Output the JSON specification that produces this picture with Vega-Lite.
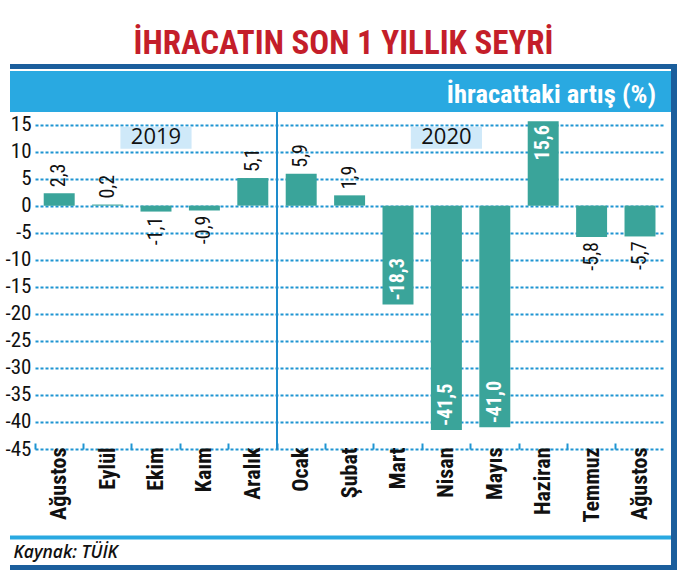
{
  "$schema": "https://vega.github.io/schema/vega-lite/v6.json",
  "width": 667,
  "height": 506,
  "autosize": {"type": "none"},
  "padding": {"left": 10, "top": 64, "right": 13, "bottom": 2},
  "background": "white",
  "config": {
    "view": {"stroke": null},
    "locale": {"number": {"decimal": ",", "thousands": ".", "grouping": [3], "currency": ["", " TL"], "minus": "-"}}
  },
  "title": {
    "text": "İHRACATIN SON 1 YILLIK SEYRİ",
    "font": "Roboto Condensed, DejaVu Sans Condensed, Liberation Sans",
    "fontSize": 33,
    "fontWeight": "bold",
    "color": "#c41e2a",
    "anchor": "middle",
    "frame": "group",
    "baseline": "alphabetic",
    "offset": 15.5,
    "dy": 41
  },
  "datasets": {
    "ihracat": [
      {"ay": "Ağustos 2019", "deger": 2.3},
      {"ay": "Eylül 2019", "deger": 0.2},
      {"ay": "Ekim 2019", "deger": -1.1},
      {"ay": "Kaım 2019", "deger": -0.9},
      {"ay": "Aralık 2019", "deger": 5.1},
      {"ay": "Ocak 2020", "deger": 5.9},
      {"ay": "Şubat 2020", "deger": 1.9},
      {"ay": "Mart 2020", "deger": -18.3},
      {"ay": "Nisan 2020", "deger": -41.5},
      {"ay": "Mayıs 2020", "deger": -41.0},
      {"ay": "Haziran 2020", "deger": 15.6},
      {"ay": "Temmuz 2020", "deger": -5.8},
      {"ay": "Ağustos 2020", "deger": -5.7}
    ],
    "yillar": [
      {"yil": "2019", "ay": "Ekim 2019"},
      {"yil": "2020", "ay": "Nisan 2020"}
    ]
  },
  "layer": [
    {
      "data": {"name": "ihracat"},
      "mark": {"type": "bar", "color": "#3aa49a", "width": {"band": 0.64}},
      "encoding": {
        "x": {
          "field": "ay",
          "type": "nominal",
          "sort": null,
          "scale": {
            "domain": ["Ağustos 2019", "Eylül 2019", "Ekim 2019", "Kaım 2019", "Aralık 2019", "Ocak 2020", "Şubat 2020", "Mart 2020", "Nisan 2020", "Mayıs 2020", "Haziran 2020", "Temmuz 2020", "Ağustos 2020"],
            "range": [25, 654.2],
            "paddingInner": 0,
            "paddingOuter": 0
          },
          "axis": {
            "orient": "bottom",
            "offset": -121,
            "labelExpr": "split(datum.value, ' ')[0]",
            "labelAngle": 270,
            "labelFont": "Roboto Condensed, DejaVu Sans Condensed, Liberation Sans",
            "labelFontWeight": "bold",
            "labelFontSize": 22,
            "labelColor": "#111111",
            "labelPadding": 4,
            "labelOverlap": false,
            "domain": false,
            "grid": false,
            "ticks": true,
            "bandPosition": 0,
            "tickSize": -6,
            "tickWidth": 2,
            "tickColor": "#1f95d2",
            "title": "Kaynak: TÜİK",
            "titleX": 3,
            "titleY": 108,
            "titleAlign": "left",
            "titleAngle": 0,
            "titleBaseline": "alphabetic",
            "titleFont": "Open Sans",
            "titleFontStyle": "italic",
            "titleFontWeight": 600,
            "titleFontSize": 17.5,
            "titleColor": "#111111"
          }
        },
        "y": {
          "field": "deger",
          "type": "quantitative",
          "scale": {"domain": [-45, 15], "range": [385, 60.5], "nice": false},
          "axis": {
            "orient": "left",
            "offset": -25,
            "values": [-45, -40, -35, -30, -25, -20, -15, -10, -5, 0, 5, 10, 15],
            "format": "d",
            "domain": false,
            "ticks": false,
            "grid": true,
            "gridColor": "#1f95d2",
            "gridDash": [3, 2],
            "gridWidth": 2,
            "labelFont": "Roboto Condensed, DejaVu Sans Condensed, Liberation Sans",
            "labelFontSize": 21,
            "labelColor": "#111111",
            "labelPadding": 4,
            "title": null
          }
        }
      }
    },
    {
      "data": {"values": [{}]},
      "mark": {"type": "rect", "color": "#29a9e1"},
      "encoding": {
        "y": {"datum": 24.89, "type": "quantitative"},
        "y2": {"datum": 17.31}
      }
    },
    {
      "data": {"values": [{}]},
      "mark": {"type": "text", "text": "İhracattaki artış (%)", "align": "right", "baseline": "alphabetic", "font": "Roboto Condensed, DejaVu Sans Condensed, Liberation Sans", "fontWeight": "bold", "fontSize": 26.5, "color": "white"},
      "encoding": {
        "x": {"datum": "Ağustos 2020", "type": "nominal", "bandPosition": 0.83},
        "y": {"datum": 18.9, "type": "quantitative"}
      }
    },
    {
      "data": {"values": [{}]},
      "mark": {"type": "rule", "color": "#1b5e9c", "strokeWidth": 5},
      "encoding": {"y": {"datum": 25.72, "type": "quantitative"}}
    },
    {
      "data": {"values": [{}]},
      "mark": {"type": "rule", "color": "#1b5e9c", "strokeWidth": 5},
      "encoding": {"y": {"datum": -66.92, "type": "quantitative"}}
    },
    {
      "data": {"values": [{}]},
      "mark": {"type": "rule", "color": "#29a9e1", "strokeWidth": 4},
      "encoding": {"y": {"datum": -61.37, "type": "quantitative"}}
    },
    {
      "data": {"values": [{}]},
      "mark": {"type": "rule", "color": "#1b5e9c", "strokeWidth": 6},
      "encoding": {"x": {"datum": "Ağustos 2020", "type": "nominal", "bandPosition": 1.2025}}
    },
    {
      "data": {"values": [{}]},
      "mark": {"type": "rule", "color": "#1e8ccc", "strokeWidth": 2},
      "encoding": {
        "x": {"datum": "Ocak 2020", "type": "nominal", "bandPosition": 0},
        "y": {"datum": 17.31, "type": "quantitative"},
        "y2": {"datum": -45}
      }
    },
    {
      "data": {"name": "yillar"},
      "mark": {"type": "bar", "color": "#cfe9f9", "width": {"band": 1.47}},
      "encoding": {
        "x": {"field": "ay", "type": "nominal"},
        "y": {"datum": 14.59, "type": "quantitative"},
        "y2": {"datum": 10.5}
      }
    },
    {
      "data": {"name": "yillar"},
      "mark": {"type": "text", "font": "Open Sans", "fontSize": 22, "color": "#111111", "baseline": "middle", "align": "center"},
      "encoding": {
        "x": {"field": "ay", "type": "nominal"},
        "y": {"datum": 12.65, "type": "quantitative"},
        "text": {"field": "yil"}
      }
    },
    {
      "data": {"name": "ihracat"},
      "transform": [{"filter": "datum.deger > 0 && datum.deger < 10"}],
      "mark": {"type": "text", "angle": 270, "align": "left", "baseline": "middle", "dx": 6, "font": "Roboto Condensed, DejaVu Sans Condensed, Liberation Sans", "fontSize": 20, "color": "#111111"},
      "encoding": {
        "x": {"field": "ay", "type": "nominal"},
        "y": {"field": "deger", "type": "quantitative"},
        "text": {"field": "deger", "type": "quantitative", "format": ".1f"}
      }
    },
    {
      "data": {"name": "ihracat"},
      "transform": [{"filter": "datum.deger < 0 && datum.deger > -10"}],
      "mark": {"type": "text", "angle": 270, "align": "right", "baseline": "middle", "dx": -5, "font": "Roboto Condensed, DejaVu Sans Condensed, Liberation Sans", "fontSize": 20, "color": "#111111"},
      "encoding": {
        "x": {"field": "ay", "type": "nominal"},
        "y": {"field": "deger", "type": "quantitative"},
        "text": {"field": "deger", "type": "quantitative", "format": ".1f"}
      }
    },
    {
      "data": {"name": "ihracat"},
      "transform": [{"filter": "datum.deger <= -10"}],
      "mark": {"type": "text", "angle": 270, "align": "left", "baseline": "middle", "dx": 4, "font": "Roboto Condensed, DejaVu Sans Condensed, Liberation Sans", "fontWeight": "bold", "fontSize": 20, "color": "white"},
      "encoding": {
        "x": {"field": "ay", "type": "nominal"},
        "y": {"field": "deger", "type": "quantitative"},
        "text": {"field": "deger", "type": "quantitative", "format": ".1f"}
      }
    },
    {
      "data": {"name": "ihracat"},
      "transform": [{"filter": "datum.deger >= 10"}],
      "mark": {"type": "text", "angle": 270, "align": "right", "baseline": "middle", "dx": -4, "font": "Roboto Condensed, DejaVu Sans Condensed, Liberation Sans", "fontWeight": "bold", "fontSize": 20, "color": "white"},
      "encoding": {
        "x": {"field": "ay", "type": "nominal"},
        "y": {"field": "deger", "type": "quantitative"},
        "text": {"field": "deger", "type": "quantitative", "format": ".1f"}
      }
    }
  ]
}
